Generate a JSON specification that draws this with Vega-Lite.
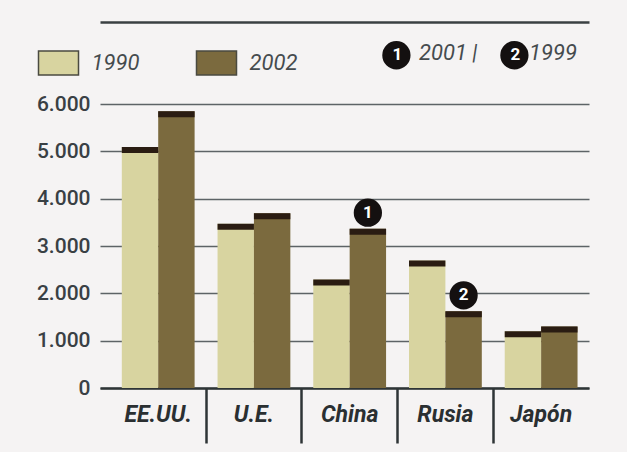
{
  "$schema": "https://vega.github.io/schema/vega-lite/v6.json",
  "autosize": {"type": "none"},
  "padding": {"left": 100, "top": 104, "right": 38, "bottom": 64},
  "width": 489,
  "height": 284,
  "background": "#f5f3f3",
  "config": {"view": {"stroke": null}},
  "datasets": {
    "bars": [
      {"country": "EE.UU.", "year": "1990", "value": 5090},
      {"country": "EE.UU.", "year": "2002", "value": 5845},
      {"country": "U.E.", "year": "1990", "value": 3470},
      {"country": "U.E.", "year": "2002", "value": 3690},
      {"country": "China", "year": "1990", "value": 2290},
      {"country": "China", "year": "2002", "value": 3365},
      {"country": "Rusia", "year": "1990", "value": 2695},
      {"country": "Rusia", "year": "2002", "value": 1620},
      {"country": "Japón", "year": "1990", "value": 1200},
      {"country": "Japón", "year": "2002", "value": 1297}
    ],
    "notas": [
      {"country": "China", "year": "2002", "value": 3365, "nota": "1", "ano": "2001"},
      {"country": "Rusia", "year": "2002", "value": 1620, "nota": "2", "ano": "1999"}
    ]
  },
  "resolve": {"axis": {"x": "independent"}},
  "layer": [
    {
      "data": {"name": "bars"},
      "mark": {"type": "bar"},
      "encoding": {
        "x": {
          "field": "country", "type": "nominal",
          "sort": ["EE.UU.", "U.E.", "China", "Rusia", "Japón"],
          "scale": {"paddingInner": 0, "paddingOuter": 0.054, "align": 1},
          "axis": {
            "title": null, "labelAngle": 0, "bandPosition": 0,
            "labelFont": "Roboto", "labelFontWeight": "bold", "labelFontStyle": "italic",
            "labelFontSize": 23, "labelColor": "#2a2f31", "labelPadding": -40,
            "ticks": true, "tickSize": 55, "tickWidth": 2.5,
            "tickColor": {"condition": {"test": "datum.value === 'EE.UU.'", "value": "transparent"}, "value": "#2e3436"},
            "domainColor": "#2e3436", "domainWidth": 2.5, "grid": false
          }
        },
        "xOffset": {"field": "year", "type": "nominal", "scale": {"paddingInner": 0, "paddingOuter": 0.315}},
        "y": {
          "field": "value", "type": "quantitative",
          "scale": {"domain": [0, 6000], "nice": false},
          "axis": {
            "title": null, "values": [0, 1000, 2000, 3000, 4000, 5000, 6000],
            "labelExpr": "replace(format(datum.value, ','), ',', '.')",
            "labelFont": "Roboto", "labelFontWeight": 500, "labelFontSize": 21, "labelColor": "#394044", "labelPadding": 10,
            "ticks": false, "domain": false, "grid": true, "gridColor": "#5d6366", "gridWidth": 1.7
          }
        },
        "color": {
          "field": "year", "type": "nominal",
          "scale": {"domain": ["1990", "2002"], "range": ["#d8d4a0", "#7b6a3e"]},
          "legend": {
            "orient": "none", "legendX": -62.5, "legendY": -62, "direction": "horizontal", "title": null,
            "symbolType": "M-1,-0.6H1V0.6H-1Z", "symbolSize": 1600,
            "symbolStrokeColor": "#4a4a40", "symbolStrokeWidth": 1.5,
            "labelFont": "Roboto", "labelFontStyle": "italic", "labelFontSize": 22,
            "labelColor": "#454b4e", "labelOffset": 12, "columnPadding": 54
          }
        }
      }
    },
    {
      "data": {"name": "bars"},
      "mark": {"type": "tick", "color": "#2a1c12", "thickness": 6, "size": 36.4, "yOffset": 3, "opacity": 1},
      "encoding": {
        "x": {"field": "country", "type": "nominal", "sort": ["EE.UU.", "U.E.", "China", "Rusia", "Japón"], "axis": null},
        "xOffset": {"field": "year", "type": "nominal"},
        "y": {"field": "value", "type": "quantitative"}
      }
    },
    {
      "data": {"name": "notas"},
      "mark": {"type": "point", "filled": true, "color": "#141010", "size": 800, "opacity": 1, "yOffset": -16},
      "encoding": {
        "x": {"field": "country", "type": "nominal", "sort": ["EE.UU.", "U.E.", "China", "Rusia", "Japón"], "axis": {"orient": "top", "offset": 82, "labels": false, "ticks": false, "title": null, "grid": false, "domainColor": "#3a4042", "domainWidth": 2.5}},
        "xOffset": {"field": "year", "type": "nominal"},
        "y": {"field": "value", "type": "quantitative"},
        "shape": {
          "field": "nota", "type": "nominal",
          "scale": {"domain": ["1", "2"], "range": ["circle", "circle"]},
          "legend": {
            "orient": "none", "legendX": 281.4, "legendY": -64.2, "direction": "horizontal", "title": null,
            "symbolFillColor": "#141010", "symbolStrokeColor": "#141010", "symbolSize": 800, "symbolOpacity": 1,
            "labelAlign": "center", "labelOffset": -14.15, "columnPadding": 82,
            "labelFont": "Roboto", "labelFontWeight": "bold", "labelFontSize": 17, "labelColor": "#ffffff"
          }
        }
      }
    },
    {
      "data": {"name": "notas"},
      "mark": {"type": "text", "color": "#ffffff", "fontWeight": "bold", "fontSize": 17, "font": "Roboto", "baseline": "middle", "yOffset": -16},
      "encoding": {
        "x": {"field": "country", "type": "nominal", "sort": ["EE.UU.", "U.E.", "China", "Rusia", "Japón"], "axis": null},
        "xOffset": {"field": "year", "type": "nominal"},
        "y": {"field": "value", "type": "quantitative"},
        "text": {"field": "nota"},
        "opacity": {
          "field": "ano", "type": "ordinal",
          "scale": {"domain": ["2001", "1999"], "range": [1, 1]},
          "legend": {
            "orient": "none", "legendX": 297, "legendY": -62, "direction": "horizontal", "title": null,
            "symbolOpacity": 0, "symbolSize": 0, "symbolStrokeWidth": 0, "labelOffset": 0, "columnPadding": 24,
            "labelExpr": "datum.label == '2001' ? '2001  |' : datum.label",
            "labelFont": "Roboto", "labelFontStyle": "italic", "labelFontSize": 22, "labelColor": "#454b4e"
          }
        }
      }
    }
  ]
}
